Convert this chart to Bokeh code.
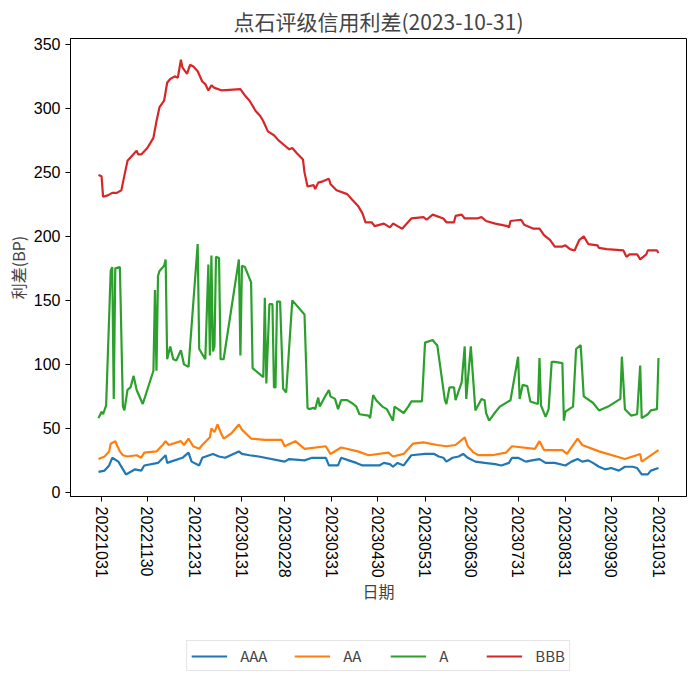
import pandas as pd
from bokeh.plotting import figure
from bokeh.layouts import column
from bokeh.models import (ColumnDataSource, Range1d, FixedTicker, DatetimeTickFormatter,
                          Legend, LegendItem)
from bokeh.embed import file_html
from bokeh.resources import INLINE

# ---------------- data (day offsets from base date, spread in BP) ----------------
base_date = "2022-10-31"
tick_labels = ["20221031", "20221130", "20221231", "20230131", "20230228", "20230331",
               "20230430", "20230531", "20230630", "20230731", "20230831", "20230930",
               "20231031"]
y_ticks = [0, 50, 100, 150, 200, 250, 300, 350]

aaa_days = [-2, 2, 5, 7, 11, 16, 22, 26, 28, 37, 42, 43, 53, 57, 59, 64, 66, 73, 77, 81,
            90, 92, 97, 103, 120, 123, 133, 138, 147, 149, 155, 157, 162, 167, 171, 176, 182, 185, 189, 191,
            194, 198, 203, 212, 218, 221, 224, 226, 230, 234, 237, 240, 245, 251, 258, 262, 267, 269, 273, 278,
            282, 287, 291, 297, 304, 308, 312, 315, 319, 322, 326, 330, 334, 339, 343, 348, 351, 354, 358, 360,
            365]
aaa_vals = [16, 17, 21, 27, 24, 14, 18, 17, 21, 23, 29, 23, 27, 31, 24, 21, 27, 30, 28, 27,
            32, 30, 29, 28, 24, 26, 25, 27, 27, 21, 21, 27, 25, 23, 21, 21, 21, 23, 22, 20,
            23, 21, 29, 30, 30, 28, 27, 24, 27, 28, 30, 27, 24, 23, 22, 21, 23, 27, 27, 24,
            25, 26, 23, 23, 21, 24, 26, 24, 25, 23, 20, 18, 19, 17, 20, 20, 19, 14, 14, 17,
            19]

aa_days = [-2, 2, 5, 6, 9, 10, 12, 14, 17, 23, 26, 28, 36, 40, 42, 44, 52, 54, 57, 60,
           64, 66, 71, 72, 74, 76, 78, 80, 85, 90, 92, 98, 107, 114, 118, 120, 127, 133, 147, 150,
           157, 168, 175, 188, 191, 198, 204, 211, 220, 226, 232, 238, 240, 244, 247, 256, 265, 269, 284, 287,
           290, 302, 305, 312, 315, 326, 343, 353, 354, 365]
aa_vals = [26, 28, 32, 38, 40, 37, 32, 29, 28, 29, 27, 31, 32, 37, 40, 37, 40, 37, 42, 36,
           34, 37, 43, 50, 47, 53, 47, 42, 46, 53, 49, 42, 41, 41, 41, 36, 40, 34, 36, 30,
           35, 32, 29, 31, 28, 30, 38, 39, 37, 36, 37, 43, 36, 31, 29, 29, 31, 36, 34, 40,
           33, 33, 30, 42, 37, 32, 26, 30, 24, 33]

a_days = [-2, 0, 1, 3, 6, 7, 8, 9, 12, 14, 15, 17, 19, 21, 23, 27, 34, 35, 36, 37,
          38, 41, 42, 43, 45, 47, 49, 52, 54, 57, 63, 64, 68, 70, 71, 72, 73, 74, 75, 77,
          78, 80, 90, 91, 92, 94, 98, 99, 106, 107, 108, 110, 112, 113, 114, 115, 117, 119, 121, 125,
          133, 135, 136, 139, 140, 142, 143, 147, 149, 150, 153, 155, 157, 161, 165, 167, 169, 175, 176, 178,
          180, 184, 187, 191, 192, 198, 201, 203, 210, 212, 217, 219, 220, 225, 226, 228, 231, 232, 236, 238,
          239, 242, 245, 249, 251, 252, 254, 257, 261, 268, 273, 274, 276, 279, 281, 286, 287, 288, 291, 293,
          295, 297, 302, 303, 304, 309, 311, 314, 316, 322, 326, 332, 340, 341, 343, 347, 351, 353, 354, 358,
          360, 364, 365]
a_vals = [58, 63, 61, 68, 173, 176, 73, 175, 176, 67, 64, 80, 82, 91, 80, 69, 95, 158, 95, 169,
          173, 177, 182, 104, 114, 104, 103, 111, 100, 98, 194, 112, 104, 178, 107, 185, 110, 114, 184, 183,
          104, 104, 182, 107, 177, 176, 164, 97, 90, 152, 85, 147, 147, 82, 82, 149, 149, 81, 78, 150,
          139, 66, 65, 66, 65, 74, 67, 76, 80, 75, 73, 65, 72, 72, 69, 67, 61, 60, 58, 76,
          72, 67, 65, 56, 67, 62, 67, 71, 71, 117, 119, 116, 115, 72, 69, 82, 82, 72, 86, 114,
          73, 114, 64, 73, 72, 62, 56, 61, 67, 72, 106, 73, 84, 83, 71, 69, 105, 68, 59, 65,
          102, 102, 101, 56, 63, 67, 112, 115, 75, 70, 64, 67, 73, 106, 65, 60, 61, 99, 58, 61,
          64, 65, 105]

bbb_days = [-2, 0, 1, 4, 7, 10, 13, 14, 17, 20, 23, 24, 26, 30, 34, 36, 38, 41, 43, 45,
            48, 50, 52, 53, 56, 58, 60, 63, 66, 68, 70, 72, 74, 79, 91, 94, 97, 101, 104, 106,
            109, 113, 116, 120, 123, 125, 128, 132, 133, 135, 139, 140, 142, 145, 149, 150, 154, 161, 164, 168,
            171, 173, 177, 179, 185, 189, 191, 194, 197, 203, 211, 213, 217, 224, 226, 231, 232, 236, 238, 246,
            249, 252, 258, 266, 267, 268, 275, 277, 283, 287, 290, 294, 297, 302, 304, 307, 310, 313, 316, 319,
            325, 326, 331, 342, 344, 346, 351, 353, 357, 358, 364, 365]
bbb_vals = [248, 247, 231, 232, 234, 234, 236, 242, 259, 263, 267, 264, 264, 269, 277, 290, 301, 306, 320, 323,
            325, 324, 338, 332, 327, 334, 333, 329, 321, 319, 314, 318, 316, 314, 315, 310, 306, 298, 294, 290,
            282, 279, 275, 271, 268, 269, 265, 260, 250, 239, 240, 237, 242, 243, 245, 241, 236, 233, 229, 224,
            218, 211, 211, 208, 210, 207, 210, 208, 206, 214, 215, 213, 217, 214, 211, 211, 216, 217, 214, 214,
            215, 212, 210, 208, 207, 212, 213, 209, 206, 206, 201, 197, 192, 192, 193, 190, 189, 197, 200, 194,
            193, 191, 190, 189, 184, 186, 186, 182, 186, 189, 189, 187]

series = [("AAA", aaa_days, aaa_vals, "#1f77b4"),
          ("AA", aa_days, aa_vals, "#ff7f0e"),
          ("A", a_days, a_vals, "#2ca02c"),
          ("BBB", bbb_days, bbb_vals, "#d62728")]

# ---------------- main figure ----------------
base = pd.Timestamp(base_date)
def to_dt(days):
    return base + pd.to_timedelta(days, unit="D")

all_days = aaa_days + aa_days + a_days + bbb_days
dmin, dmax = min(all_days), max(all_days)
pad = 0.05 * (dmax - dmin)
xr = Range1d(to_dt(dmin - pad), to_dt(dmax + pad))

p = figure(width=690, height=621, output_backend="svg", toolbar_location=None,
           x_axis_type="datetime", x_range=xr,
           y_range=Range1d(-3.25, 354.6),
           min_border_left=70, min_border_right=4, min_border_top=34, min_border_bottom=125)

p.title.text = "点石评级信用利差(2023-10-31)"
p.title.text_font = "Noto Sans CJK SC"
p.title.text_font_size = "21px"
p.title.text_font_style = "normal"
p.title.align = "center"
p.title.standoff = 6

sources = []
for name, d, v, c in series:
    src = ColumnDataSource(dict(x=to_dt(d), y=v))
    sources.append(src)
    p.line("x", "y", source=src, line_color=c, line_width=2.2)

tick_dates = [pd.Timestamp(t) for t in tick_labels]
p.xaxis.ticker = FixedTicker(ticks=[t.value / 1e6 for t in tick_dates])
fmt = "%Y%m%d"
p.xaxis.formatter = DatetimeTickFormatter(milliseconds=fmt, seconds=fmt, minsec=fmt, minutes=fmt,
                                          hourmin=fmt, hours=fmt, days=fmt, months=fmt, years=fmt)
p.xaxis.major_label_orientation = "vertical"
p.yaxis.ticker = FixedTicker(ticks=y_ticks)

p.xaxis.axis_label = "日期"
p.yaxis.axis_label = "利差(BP)"
for ax in (p.xaxis, p.yaxis):
    ax.axis_label_text_font = "Noto Sans CJK SC"
    ax.axis_label_text_font_size = "16px"
    ax.axis_label_text_font_style = "normal"
    ax.major_label_text_font = "Liberation Sans"
    ax.major_label_text_font_size = "16px"
    ax.major_label_text_color = "black"
    ax.axis_line_color = "black"
    ax.major_tick_line_color = "black"
    ax.major_tick_out = 5
    ax.major_tick_in = 0
    ax.minor_tick_line_color = None
p.xaxis.axis_label_standoff = -2
p.yaxis.axis_label_standoff = 1

p.xgrid.grid_line_color = None
p.ygrid.grid_line_color = None
p.outline_line_color = "black"
p.outline_line_alpha = 1
p.outline_line_width = 1

# ---------------- legend strip below (same series, kept outside its view) ----------------
lf = figure(width=690, height=53, output_backend="svg", toolbar_location=None,
            x_range=xr, y_range=Range1d(1000, 1001),
            min_border_left=70, min_border_right=4, min_border_top=0, min_border_bottom=0)
lf.axis.visible = False
lf.grid.grid_line_color = None
lf.outline_line_color = None

items = []
for (name, d, v, c), src in zip(series, sources):
    r = lf.line("x", "y", source=src, line_color=c, line_width=2.2)
    items.append(LegendItem(label=name, renderers=[r]))

legend = Legend(items=items, orientation="horizontal", location="bottom_center")
legend.label_text_font = "Noto Sans CJK SC"
legend.label_text_font_size = "15px"
legend.glyph_width = 36
legend.glyph_height = 14
legend.label_standoff = 13
legend.spacing = 27
legend.padding = 4
legend.margin = 3
legend.border_line_color = "#cccccc"
legend.background_fill_alpha = 0.8
lf.add_layout(legend)

layout = column(p, lf, spacing=0)
open("out.html", "w").write(file_html(layout, INLINE))
